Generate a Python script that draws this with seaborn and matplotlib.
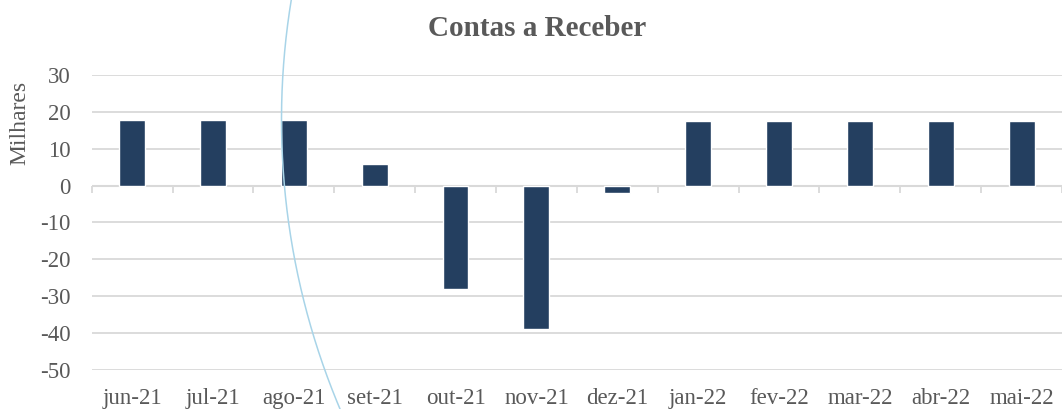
import numpy as np
import pandas as pd
import matplotlib
matplotlib.use("Agg")
import matplotlib.pyplot as plt
from matplotlib.lines import Line2D
import seaborn as sns

# ── Dados (milhares) ─────────────────────────────────────────────────────────
meses = ["jun-21", "jul-21", "ago-21", "set-21", "out-21", "nov-21",
         "dez-21", "jan-22", "fev-22", "mar-22", "abr-22", "mai-22"]
valores = [17.7, 17.7, 17.7, 5.9, -28.0, -38.8,
           -2.1, 17.5, 17.5, 17.5, 17.5, 17.5]
y_ticks = [30, 20, 10, 0, -10, -20, -30, -40, -50]

BAR = "#243F60"
GRID = "#D9D9D9"
TXT = "#595959"

df = pd.DataFrame({"mes": meses, "valor": valores})

sns.set_theme(style="white")
plt.rcParams["font.family"] = ["Liberation Serif", "DejaVu Serif"]
plt.rcParams["axes.unicode_minus"] = False

fig = plt.figure(figsize=(10.62, 4.09), dpi=100)
ax = fig.add_axes([0.0863, 0.0954, 0.9137, 0.7212])

sns.barplot(data=df, x="mes", y="valor", color=BAR, width=0.32,
            saturation=1, ax=ax, zorder=3)

ax.set_ylim(-50, 30)
ax.set_xlim(-0.5, len(meses) - 0.5)
ax.set_yticks(y_ticks)
ax.yaxis.grid(True, color=GRID, linewidth=1.3, zorder=0)
ax.xaxis.grid(False)
for s in ax.spines.values():
    s.set_visible(False)

# eixo horizontal no zero com marcas entre categorias
ax.axhline(0, color=GRID, linewidth=1.5, zorder=2)
ax.vlines(np.arange(len(meses) + 1) - 0.5, 0, -1.9, color=GRID,
          linewidth=1.3, zorder=2, clip_on=False)

ax.tick_params(axis="y", length=0, pad=15, labelsize=16.5, labelcolor=TXT)
ax.tick_params(axis="x", length=0, pad=13, labelsize=16.5, labelcolor=TXT)
ax.set_xlabel("")
ax.set_ylabel("")

fig.text(0.506, 0.93, "Contas a Receber", ha="center", va="center",
         fontsize=21, fontweight="bold", color=TXT)
fig.text(0.019, 0.70, "Milhares", rotation=90, ha="center", va="center",
         fontsize=17, color=TXT)

# linha decorativa (arco azul claro) sobre o gráfico
W, H = 1062, 409
t = np.linspace(-np.arcsin(130 / 743), np.arcsin(300 / 743), 200)
ax_px = 1024.5 - 743 * np.cos(t)
ay_px = 120 + 743 * np.sin(t)
fig.add_artist(Line2D(ax_px / W, 1 - ay_px / H, color="#A8D4E8",
                      linewidth=1.1, transform=fig.transFigure, zorder=10))

fig.savefig("out.png", dpi=100)
